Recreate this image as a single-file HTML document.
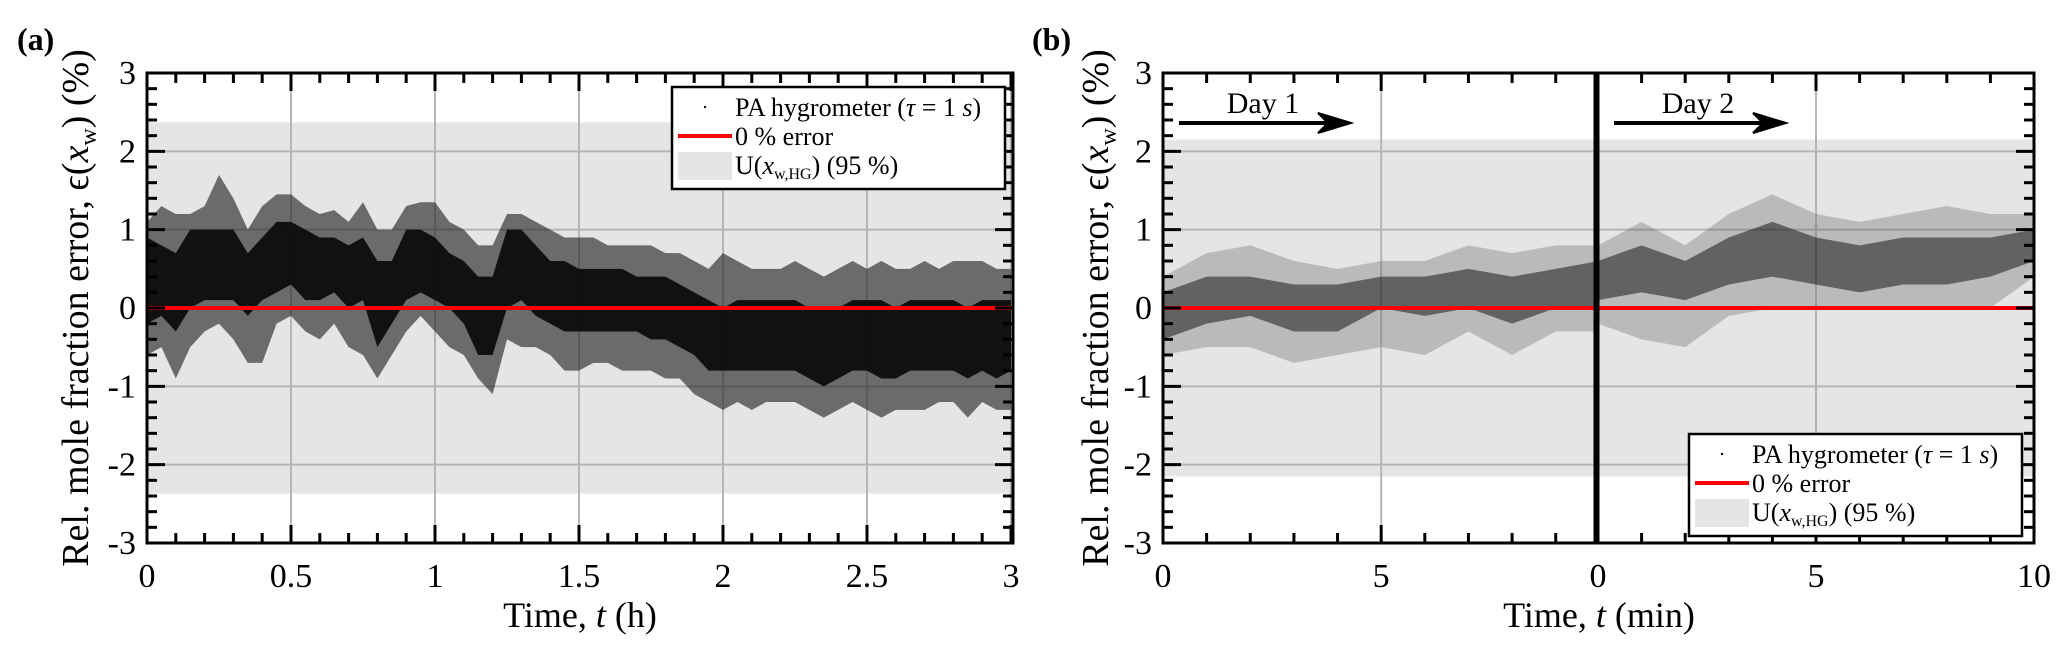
<!DOCTYPE html>
<html><head><meta charset="utf-8">
<style>
html,body{margin:0;padding:0;background:#fff;}
svg{display:block;font-family:"Liberation Serif",serif;}
</style></head>
<body>
<svg id="fig" width="2067" height="652" viewBox="0 0 2067 652" xmlns="http://www.w3.org/2000/svg">
  <g id="layer"></g>
  <text x="17" y="50" font-size="32" font-weight="bold">(a)</text>
  <text x="1032" y="50" font-size="32" font-weight="bold">(b)</text>
  <text transform="translate(88,308) rotate(-90)" text-anchor="middle" font-size="38">Rel. mole fraction error, ϵ(<tspan font-style="italic">x</tspan><tspan font-size="24" dy="8">w</tspan><tspan dy="-8">) (%)</tspan></text>
  <text transform="translate(1108,308) rotate(-90)" text-anchor="middle" font-size="38">Rel. mole fraction error, ϵ(<tspan font-style="italic">x</tspan><tspan font-size="24" dy="8">w</tspan><tspan dy="-8">) (%)</tspan></text>
  <text x="580" y="627" text-anchor="middle" font-size="36">Time, <tspan font-style="italic">t</tspan> (h)</text>
  <text x="1599" y="627" text-anchor="middle" font-size="36">Time, <tspan font-style="italic">t</tspan> (min)</text>
</svg>
<script>
// ---- Panel (a) data: time in h (0.05 h bins), relative error in %
const timeA = [0,.05,.1,.15,.2,.25,.3,.35,.4,.45,.5,.55,.6,.65,.7,.75,.8,.85,.9,.95,1,1.05,1.1,1.15,1.2,1.25,1.3,1.35,1.4,1.45,1.5,1.55,1.6,1.65,1.7,1.75,1.8,1.85,1.9,1.95,2,2.05,2.1,2.15,2.2,2.25,2.3,2.35,2.4,2.45,2.5,2.55,2.6,2.65,2.7,2.75,2.8,2.85,2.9,2.95,3.0];
const coreHiA = [.9,.8,.7,1.0,1.0,1.0,1.0,.7,.9,1.1,1.1,1.0,.9,.9,.8,.9,.6,.6,1.0,1.0,.9,.7,.6,.4,.4,1.0,1.0,.8,.6,.6,.5,.5,.5,.5,.4,.4,.4,.3,.2,.1,0,.1,.1,.1,.1,.1,0,0,0,.1,.1,.1,0,.1,.1,.1,.1,0,.1,.1,.1];
const coreLoA = [-.2,-.1,-.3,0,.1,.1,.1,-.1,.1,.2,.3,.1,.1,.2,0,.1,-.5,-.2,.1,.2,.1,0,-.2,-.6,-.6,0,.1,-.1,-.2,-.3,-.3,-.3,-.3,-.3,-.3,-.4,-.4,-.5,-.6,-.8,-.8,-.8,-.8,-.8,-.8,-.8,-.9,-1.0,-.9,-.8,-.8,-.9,-.9,-.8,-.8,-.8,-.8,-.9,-.8,-.9,-.8];
const maxA = [1.1,1.3,1.2,1.2,1.3,1.7,1.4,1.0,1.3,1.45,1.45,1.3,1.2,1.25,1.1,1.35,1.0,1.0,1.3,1.35,1.35,1.1,1.0,.8,.8,1.2,1.2,1.1,1.0,.9,.9,.9,.8,.8,.8,.8,.7,.7,.6,.5,.7,.6,.5,.5,.5,.6,.5,.4,.5,.6,.5,.6,.5,.5,.6,.5,.6,.6,.6,.5,.5];
const minA = [-.6,-.5,-.9,-.5,-.3,-.2,-.4,-.7,-.7,-.2,-.1,-.3,-.4,-.2,-.5,-.6,-.9,-.6,-.3,-.1,-.3,-.5,-.6,-.9,-1.1,-.4,-.5,-.5,-.6,-.8,-.8,-.7,-.7,-.8,-.8,-.8,-.9,-.9,-1.1,-1.2,-1.3,-1.2,-1.3,-1.2,-1.2,-1.2,-1.3,-1.4,-1.3,-1.2,-1.3,-1.4,-1.3,-1.3,-1.3,-1.2,-1.2,-1.4,-1.2,-1.3,-1.3];
const bandA = 2.37;
const xTicksA = [0,0.5,1,1.5,2,2.5,3];
const xTickLabelsA = ["0","0.5","1","1.5","2","2.5","3"];
const yTicks = [-3,-2,-1,0,1,2,3];
const yTickLabels = ["-3","-2","-1","0","1","2","3"];

// ---- Panel (b) data: time in min per day
const timeB = [0,1,2,3,4,5,6,7,8,9,10];
const coreHiDay1 = [.2,.4,.4,.3,.3,.4,.4,.5,.4,.5,.6];
const coreLoDay1 = [-.4,-.2,-.1,-.3,-.3,0,-.1,0,-.2,0,0];
const maxDay1 = [.4,.7,.8,.6,.5,.6,.6,.8,.7,.8,.8];
const minDay1 = [-.6,-.5,-.5,-.7,-.6,-.5,-.6,-.3,-.6,-.3,-.3];
const coreHiDay2 = [.6,.8,.6,.9,1.1,.9,.8,.9,.9,.9,1.0];
const coreLoDay2 = [.1,.2,.1,.3,.4,.3,.2,.3,.3,.4,.6];
const maxDay2 = [.8,1.1,.8,1.2,1.45,1.2,1.1,1.2,1.3,1.2,1.2];
const minDay2 = [-.2,-.4,-.5,-.1,0,0,0,0,0,0,.4];
const bandB = 2.15;
const xTicksB = [0,5,10];
const xTickLabelsB = ["0","5","10"];

const NS = "http://www.w3.org/2000/svg";
const layer = document.getElementById('layer');
function mk(tag, attrs, parent) {
  const e = document.createElementNS(NS, tag);
  for (const k in attrs) e.setAttribute(k, attrs[k]);
  (parent || layer).appendChild(e);
  return e;
}
const TOP = 73, BOT = 543;
function yS(v) { return 308 - v * (BOT - TOP) / 6; }

function drawPanel(cfg) {
  const g = mk('g', {});
  
  
  const xs = v => cfg.x0 + (v - cfg.xmin) / (cfg.xmax - cfg.xmin) * (cfg.x1 - cfg.x0);
  const band = mk('rect', {x: cfg.x0, y: yS(cfg.band), width: cfg.x1 - cfg.x0, height: yS(-cfg.band) - yS(cfg.band), fill: '#e5e5e5'}, g);
  
  
  cfg.xGrid.forEach(v => {
    const l = mk('line', {x1: xs(v), x2: xs(v), y1: TOP, y2: BOT, stroke: '#b5b5b5', 'stroke-width': 2}, g);
    
    
  });
  yTicks.forEach(v => {
    if (v === -3 || v === 3) return;
    const l = mk('line', {x1: cfg.x0, x2: cfg.x1, y1: yS(v), y2: yS(v), stroke: '#b5b5b5', 'stroke-width': 2}, g);
    
    
  });
  cfg.series.forEach(s => {
    const outer = s.t.map((t, i) => xs(t) + ',' + yS(s.max[i])).concat(s.t.map((t, i) => xs(t) + ',' + yS(s.min[i])).reverse());
    const po = mk('polygon', {points: outer.join(' '), fill: s.outerFill, 'fill-opacity': s.outerOp}, g);
    
    
    const core = s.t.map((t, i) => xs(t) + ',' + yS(s.hi[i])).concat(s.t.map((t, i) => xs(t) + ',' + yS(s.lo[i])).reverse());
    const pc = mk('polygon', {points: core.join(' '), fill: s.coreFill, 'fill-opacity': s.coreOp}, g);
    
    
  });
  const z = mk('line', {x1: cfg.x0, x2: cfg.x1, y1: yS(0), y2: yS(0), stroke: '#ff0000', 'stroke-width': 4}, g);
  
  
  cfg.xMinor.forEach(v => {
    const major = cfg.xMajor.some(m => Math.abs(m - v) < 1e-6);
    const L = major ? 18 : 10;
    mk('line', {x1: xs(v), x2: xs(v), y1: BOT, y2: BOT - L, stroke: '#000', 'stroke-width': 3}, g);
    mk('line', {x1: xs(v), x2: xs(v), y1: TOP, y2: TOP + L, stroke: '#000', 'stroke-width': 3}, g);
  });
  for (let k = 0; k <= 30; k++) {
    const v = -3 + k * 0.2;
    const major = k % 5 === 0;
    const L = major ? 18 : 10;
    if (cfg.leftTicks) mk('line', {x1: cfg.x0, x2: cfg.x0 + L, y1: yS(v), y2: yS(v), stroke: '#000', 'stroke-width': 3}, g);
    if (cfg.rightTicks) mk('line', {x1: cfg.x1, x2: cfg.x1 - L, y1: yS(v), y2: yS(v), stroke: '#000', 'stroke-width': 3}, g);
  }
  const fr = mk('rect', {x: cfg.x0, y: TOP, width: cfg.x1 - cfg.x0, height: BOT - TOP, fill: 'none', stroke: '#000', 'stroke-width': 3}, g);
  
  
  cfg.xMajor.forEach((v, i) => {
    const t = mk('text', {x: xs(v), y: 587, 'text-anchor': 'middle', 'font-size': 34}, g);
    t.textContent = cfg.xLabels[i];
    
    
  });
  if (cfg.yLabels) {
    yTicks.forEach((v, i) => {
      const t = mk('text', {x: cfg.x0 - 11, y: yS(v) + 11, 'text-anchor': 'end', 'font-size': 34}, g);
      t.textContent = yTickLabels[i];
      
      
    });
  }
  return xs;
}

const minorA = []; for (let k = 0; k <= 30; k++) minorA.push(k / 10);
drawPanel({name: 'panel-a', x0: 147, x1: 1013, xmin: 0, xmax: 3.007, band: bandA,
  xGrid: [0.5,1,1.5,2,2.5,3], xMinor: minorA, xMajor: xTicksA, xLabels: xTickLabelsA, yLabels: true, leftTicks: true, rightTicks: true,
  series: [{t: timeA, hi: coreHiA, lo: coreLoA, max: maxA, min: minA, coreFill: '#0a0a0a', coreOp: 0.92, outerFill: '#202020', outerOp: 0.62}]});

const minorB = []; for (let k = 0; k <= 10; k++) minorB.push(k);
drawPanel({name: 'panel-b-day1', x0: 1163, x1: 1595, xmin: 0, xmax: 9.9, band: bandB,
  xGrid: [5], xMinor: minorB.slice(0, 10), xMajor: [0,5], xLabels: ["0","5"], yLabels: true, leftTicks: true, rightTicks: false,
  series: [{t: timeB, hi: coreHiDay1, lo: coreLoDay1, max: maxDay1, min: minDay1, coreFill: '#1a1a1a', coreOp: 0.55, outerFill: '#555', outerOp: 0.3}]});
drawPanel({name: 'panel-b-day2', x0: 1598, x1: 2034, xmin: 0, xmax: 10, band: bandB,
  xGrid: [5], xMinor: minorB, xMajor: xTicksB, xLabels: xTickLabelsB, yLabels: false, leftTicks: false, rightTicks: true,
  series: [{t: timeB, hi: coreHiDay2, lo: coreLoDay2, max: maxDay2, min: minDay2, coreFill: '#1a1a1a', coreOp: 0.55, outerFill: '#555', outerOp: 0.3}]});

function dayArrow(x0, label, nm) {
  const g = mk('g', {});
  
  
  const y = 123;
  mk('line', {x1: x0 + 16, x2: x0 + 170, y1: y, y2: y, stroke: '#000', 'stroke-width': 4}, g);
  mk('polygon', {points: `${x0+188},${y} ${x0+155},${y-10} ${x0+165},${y} ${x0+155},${y+10}`, fill: '#000', stroke: '#000', 'stroke-width': 2}, g);
  const t = mk('text', {x: x0 + 100, y: 113, 'text-anchor': 'middle', 'font-size': 30}, g);
  t.textContent = label;
}
dayArrow(1163, 'Day 1', 'day1-arrow');
dayArrow(1598, 'Day 2', 'day2-arrow');

function legend(x, y, nm) {
  const g = mk('g', {});
  
  
  mk('rect', {x: x, y: y, width: 333, height: 102, fill: '#fff', stroke: '#000', 'stroke-width': 2.5}, g);
  mk('circle', {cx: x + 33, cy: y + 20, r: 1.2, fill: '#000'}, g);
  mk('line', {x1: x + 6, x2: x + 60, y1: y + 49, y2: y + 49, stroke: '#ff0000', 'stroke-width': 4}, g);
  mk('rect', {x: x + 6, y: y + 65, width: 54, height: 28, fill: '#e5e5e5'}, g);
  const t1 = mk('text', {x: x + 63, y: y + 29, 'font-size': 26}, g);
  t1.innerHTML = 'PA hygrometer (<tspan font-style="italic">τ</tspan> = 1 <tspan font-style="italic">s</tspan>)';
  const t2 = mk('text', {x: x + 63, y: y + 58, 'font-size': 26}, g);
  t2.textContent = '0 % error';
  const t3 = mk('text', {x: x + 63, y: y + 87, 'font-size': 26}, g);
  t3.innerHTML = 'U(<tspan font-style="italic">x</tspan><tspan font-size="16" dy="5">w,HG</tspan><tspan dy="-5">) (95 %)</tspan>';
}
legend(672, 87, 'legend-a');
legend(1689, 434, 'legend-b');
</script>
</body></html>
